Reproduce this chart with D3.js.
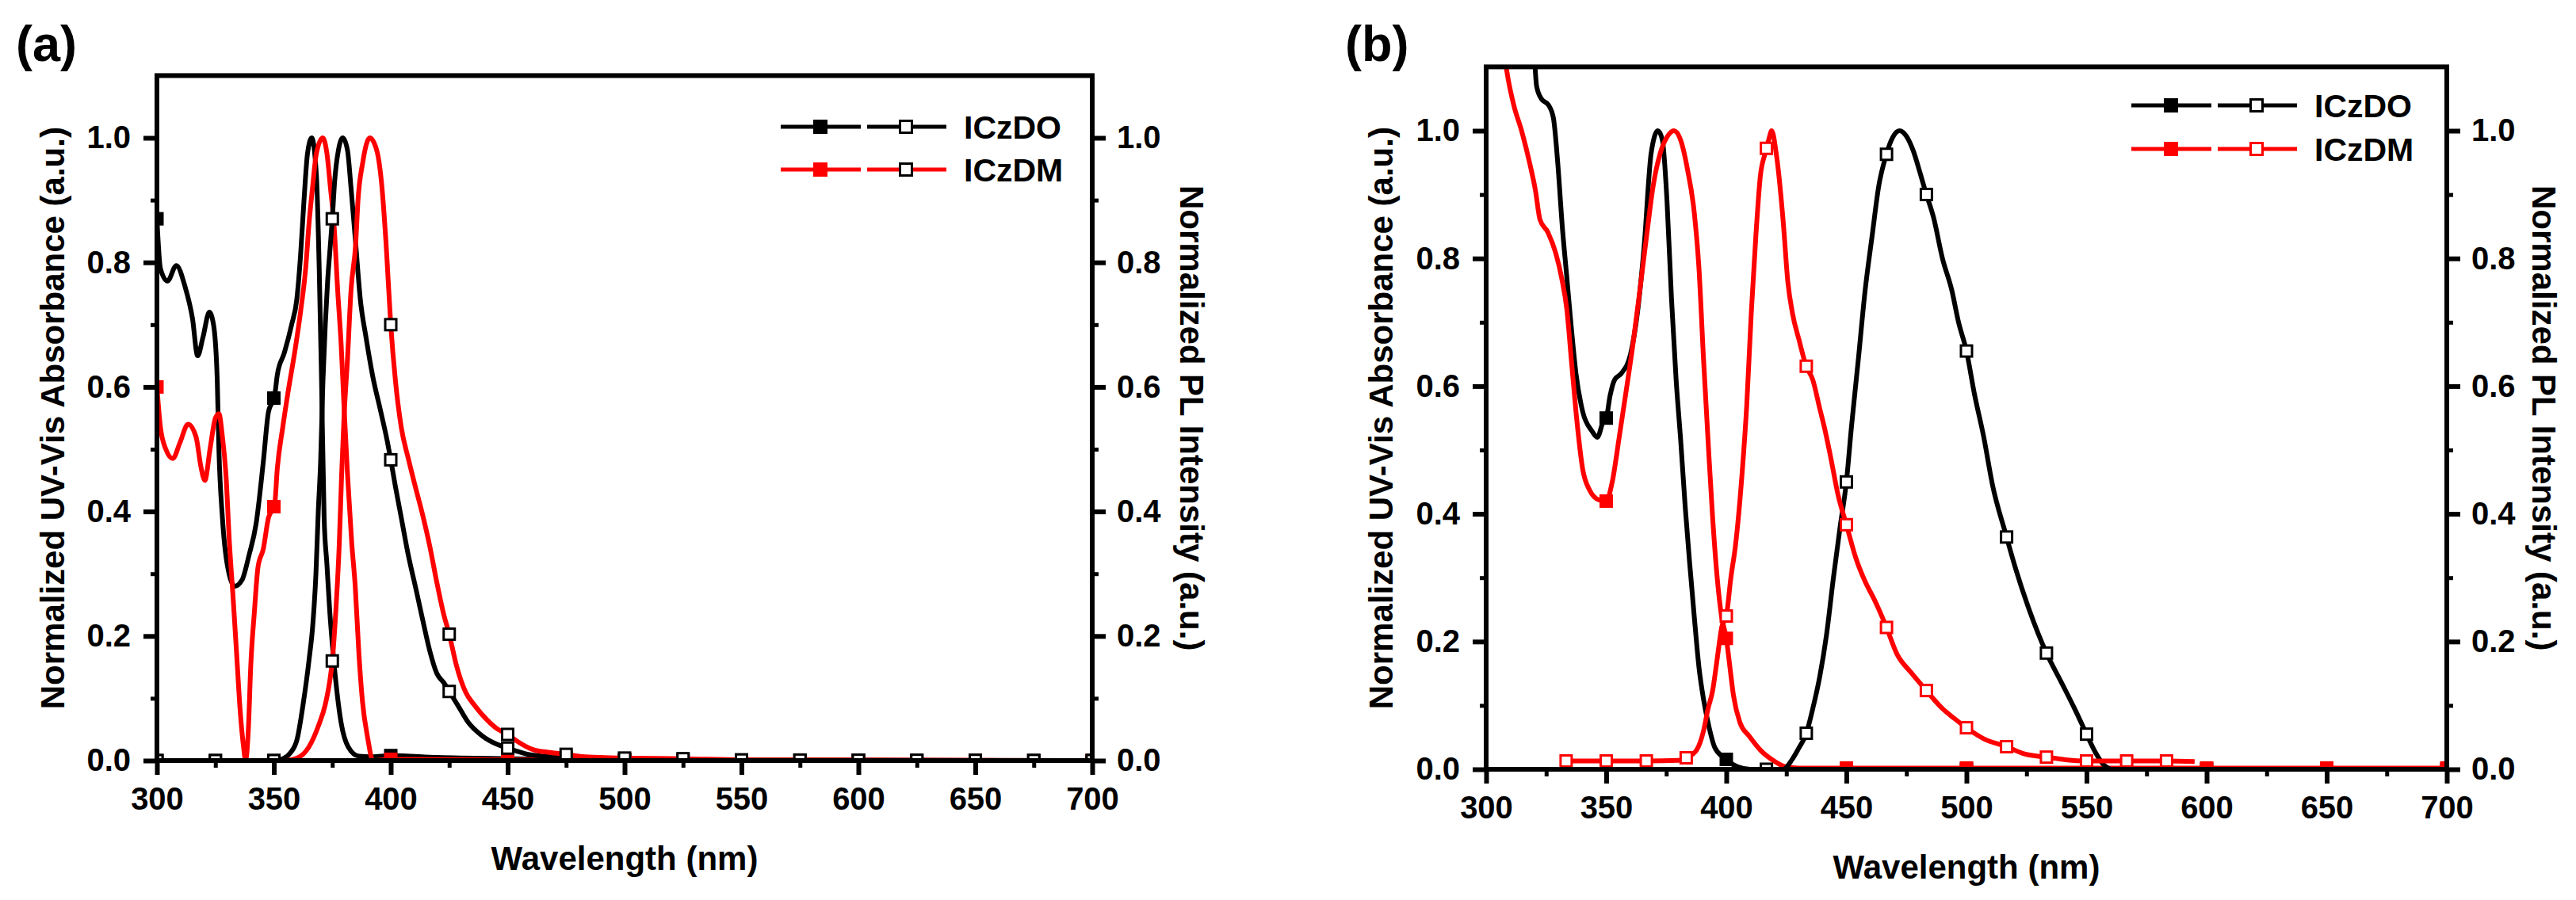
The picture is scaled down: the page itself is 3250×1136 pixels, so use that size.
<!DOCTYPE html>
<html>
<head>
<meta charset="utf-8">
<script src="https://cdn.jsdelivr.net/npm/d3@7"></script>
<style>
  body { margin: 0; background: #fff; }
</style>
</head>
<body>
<script>
// ---- panel (a): ICzDO / ICzDM, absorbance (filled) and PL (open) ----
const a_DO_abs_wl = [300, 301.5, 304.5, 308.3, 312.1, 315.2, 317.4, 319.7, 322.4, 324.2, 325.8, 326.5, 328, 330.3, 333.3, 336.4, 339.4, 342.4, 345.5, 347.7, 350.3, 351.5, 354.5, 357.6, 359.8, 361.4, 362.9, 364.4, 366.2, 368.2, 369.4, 370.4, 371.5, 372.7, 373.9, 375.4, 377, 378.8, 381.8, 386.4, 392, 400, 420, 450, 500, 700];
const a_DO_abs    = [0.87, 0.79, 0.77, 0.795, 0.76, 0.71, 0.65, 0.68, 0.72, 0.70, 0.61, 0.50, 0.39, 0.31, 0.28, 0.29, 0.33, 0.38, 0.48, 0.56, 0.585, 0.62, 0.655, 0.70, 0.74, 0.81, 0.90, 0.975, 1.0, 0.94, 0.79, 0.61, 0.39, 0.315, 0.24, 0.17, 0.11, 0.06, 0.022, 0.007, 0.006, 0.008, 0.005, 0.003, 0.001, 0];

const a_DO_pl_wl = [300, 350, 354, 357, 360, 362.5, 365, 366.7, 368, 369, 370, 371, 372, 373, 374, 375, 376, 377.6, 379.5, 381.5, 383, 385, 387, 389.4, 392.4, 395.5, 398.5, 400, 402, 404.5, 407.5, 410.5, 413.6, 416.7, 419.7, 422.7, 425, 428.8, 433, 439, 445.5, 450, 457.6, 468, 475, 500, 700];
const a_DO_pl    = [0, 0, 0.003, 0.012, 0.035, 0.09, 0.16, 0.22, 0.3, 0.4, 0.48, 0.61, 0.70, 0.77, 0.82, 0.87, 0.93, 0.98, 1.0, 0.98, 0.92, 0.83, 0.74, 0.68, 0.615, 0.564, 0.513, 0.483, 0.44, 0.39, 0.33, 0.28, 0.227, 0.176, 0.14, 0.125, 0.111, 0.088, 0.062, 0.04, 0.026, 0.02, 0.011, 0.006, 0.004, 0.001, 0];

const a_DM_abs_wl = [300, 301.5, 303.8, 306.8, 309.8, 313.3, 316.7, 318.9, 320.5, 322.7, 325, 326.5, 328, 329.5, 331, 332.6, 334.1, 335.6, 337.1, 337.9, 339.1, 340.1, 341.7, 343.2, 345.5, 347.7, 350.3, 351.5, 353.8, 356, 359.1, 361.4, 363.6, 365.1, 366.4, 368.2, 370.9, 372.7, 374.2, 375.8, 377.3, 378.8, 380, 381.5, 383.3, 384.8, 386.4, 387.9, 390.1, 392.4, 400, 450, 700];
const a_DM_abs    = [0.60, 0.535, 0.50, 0.485, 0.51, 0.54, 0.52, 0.47, 0.45, 0.50, 0.55, 0.557, 0.52, 0.46, 0.35, 0.26, 0.17, 0.08, 0.02, 0.0, 0.05, 0.15, 0.24, 0.31, 0.34, 0.39, 0.41, 0.47, 0.535, 0.59, 0.66, 0.72, 0.79, 0.865, 0.915, 0.975, 1.0, 0.975, 0.92, 0.857, 0.755, 0.667, 0.57, 0.46, 0.35, 0.28, 0.17, 0.095, 0.037, 0.0, 0.002, 0.001, 0];

const a_DM_pl_wl = [300, 355, 360, 365, 369, 372, 374, 375, 376.5, 378, 379, 380, 381.5, 383, 385, 386, 388, 391, 394, 396, 398, 400, 402, 404.5, 407.5, 410.5, 413.6, 416.7, 419.7, 422.7, 425, 428, 432, 436, 441, 445.5, 450, 454.5, 460.6, 468, 475, 483, 500, 525, 550, 700];
const a_DM_pl    = [0, 0, 0.004, 0.022, 0.055, 0.09, 0.13, 0.16, 0.24, 0.35, 0.46, 0.55, 0.645, 0.755, 0.83, 0.90, 0.96, 1.0, 0.98, 0.93, 0.83, 0.70, 0.61, 0.535, 0.485, 0.44, 0.395, 0.344, 0.286, 0.234, 0.203, 0.154, 0.11, 0.088, 0.066, 0.051, 0.042, 0.03, 0.018, 0.013, 0.01, 0.006, 0.004, 0.003, 0.001, 0];

// ---- panel (b) ----
const b_DO_abs_wl = [316, 318, 320, 321, 323, 326, 328, 329.8, 331.7, 333.6, 335.5, 337.4, 340.2, 344, 346.3, 348.8, 350, 351.6, 353.5, 356.3, 360.1, 363, 365.8, 368.7, 371.5, 373.4, 375.3, 377.2, 379.1, 381, 382.9, 384.8, 386.7, 388.6, 390.5, 392.4, 395.2, 399, 404.7, 410, 450, 700];
const b_DO_abs    = [1.25, 1.18, 1.12, 1.07, 1.05, 1.04, 1.02, 0.95, 0.85, 0.77, 0.69, 0.62, 0.56, 0.53, 0.52, 0.545, 0.55, 0.585, 0.61, 0.62, 0.65, 0.715, 0.82, 0.965, 1.0, 0.985, 0.89, 0.735, 0.61, 0.515, 0.41, 0.32, 0.237, 0.16, 0.11, 0.073, 0.034, 0.018, 0.004, 0.0, 0.0, 0.0];

const b_DO_pl_wl = [405, 423.7, 427.5, 430.3, 433.2, 436, 438.9, 441.7, 444.6, 447.4, 450, 452.1, 455, 457.8, 460.7, 463.5, 466.4, 469.2, 472.1, 474.9, 477.7, 480.6, 482.9, 486.3, 490, 493.9, 496.7, 500, 503.4, 507.1, 510.9, 516.3, 520.4, 526.1, 533.3, 539.4, 545, 550, 553.6, 557.4, 560];
const b_DO_pl    = [0, 0, 0.016, 0.034, 0.055, 0.095, 0.145, 0.21, 0.30, 0.38, 0.45, 0.536, 0.643, 0.75, 0.835, 0.914, 0.96, 0.989, 1.0, 0.992, 0.97, 0.935, 0.905, 0.864, 0.80, 0.75, 0.70, 0.655, 0.586, 0.522, 0.444, 0.369, 0.315, 0.25, 0.182, 0.137, 0.095, 0.055, 0.027, 0.006, 0];

const b_DM_abs_wl = [305, 308.3, 309.2, 311.5, 314.9, 318.2, 320.5, 322.4, 325.7, 329, 331.4, 333.6, 335.5, 337.4, 340.2, 343.1, 346.9, 350, 352.5, 355.4, 358.2, 361.1, 364, 366.8, 369.6, 372.5, 375.3, 378.2, 381, 383.8, 386.7, 388.6, 390.5, 392.4, 394.3, 396.2, 398, 400, 401.5, 403, 405.7, 409.5, 414.2, 419.9, 424.6, 430, 700];
const b_DM_abs    = [1.15, 1.1, 1.08, 1.04, 0.998, 0.948, 0.907, 0.861, 0.841, 0.808, 0.77, 0.72, 0.64, 0.56, 0.47, 0.437, 0.422, 0.42, 0.45, 0.52, 0.59, 0.665, 0.75, 0.835, 0.915, 0.965, 0.99, 1.0, 0.985, 0.94, 0.87, 0.785, 0.643, 0.515, 0.394, 0.30, 0.24, 0.205, 0.16, 0.115, 0.073, 0.052, 0.03, 0.013, 0.004, 0.002, 0.002];

const b_DM_pl_wl = [331, 333.3, 350, 366.7, 380, 383.3, 387.6, 390.5, 392.4, 394.3, 396.2, 398.1, 400, 401.9, 403.8, 406.6, 408.5, 410.4, 412.3, 414.2, 416.1, 417.6, 418.9, 420.8, 423.7, 425.6, 427.5, 430.3, 433.2, 436, 438.9, 440.8, 443.6, 446.5, 450, 454, 457.8, 461.6, 466.4, 471.1, 476.8, 482.9, 490, 494.8, 500, 507.1, 516.3, 524.2, 533.3, 541.3, 550, 566.7, 583.3, 595];
const b_DM_pl    = [0.012, 0.013, 0.013, 0.013, 0.014, 0.018, 0.03, 0.06, 0.095, 0.123, 0.173, 0.223, 0.24, 0.30, 0.35, 0.465, 0.57, 0.715, 0.835, 0.93, 0.964, 0.985, 1.0, 0.964, 0.857, 0.764, 0.715, 0.672, 0.632, 0.61, 0.565, 0.536, 0.486, 0.43, 0.383, 0.33, 0.294, 0.266, 0.225, 0.18, 0.152, 0.125, 0.095, 0.08, 0.065, 0.048, 0.036, 0.024, 0.019, 0.015, 0.013, 0.013, 0.013, 0.012];

// symbol positions (wavelengths)
const abs_marks = [300, 350, 400, 450, 500, 550, 600, 650, 700];
const a_pl_marks = [300, 325, 350, 375, 400, 425, 450, 475, 500, 525, 550, 575, 600, 625, 650, 675, 700];
const b_DO_pl_marks = [416.7, 433.3, 450, 466.7, 483.3, 500, 516.7, 533.3, 550];
const b_DM_pl_marks = [333.3, 350, 366.7, 383.3, 400, 416.7, 433.3, 450, 466.7, 483.3, 500, 516.7, 533.3, 550, 566.7, 583.3];

// ticks and labels
const tickX = [300, 350, 400, 450, 500, 550, 600, 650, 700];
const minorX = [325, 375, 425, 475, 525, 575, 625, 675];
const tickY = [0, 0.2, 0.4, 0.6, 0.8, 1.0];
const minorY = [0.1, 0.3, 0.5, 0.7, 0.9];
const legendNames = ['ICzDO', 'ICzDM'];

const width = 3250, height = 1136;
const FONT = '"Liberation Sans", Arial, sans-serif';
const RED = '#ff0000';

const svg = d3.select('body').append('svg')
  .attr('width', width).attr('height', height)
  .style('font-family', FONT).style('font-weight', 'bold');
svg.append('rect').attr('width', width).attr('height', height).attr('fill', '#fff');

// linear lookup so the symbols sit on the drawn line
function valueAt(xs, ys, v) {
  const i = d3.bisectLeft(xs, v);
  if (i <= 0) return ys[0];
  if (i >= xs.length) return ys[ys.length - 1];
  const t = (v - xs[i - 1]) / (xs[i] - xs[i - 1]);
  return ys[i - 1] + t * (ys[i] - ys[i - 1]);
}

const panels = [
  { name: 'a', label: '(a)', labelX: 20, left: 198, right: 1378, top: 95.4, bottom: 960,
    titleL: 66, titleR: 1504, xTitleY: 1098, legX: 985, legY: 160, legGap: 54, openEdgeDM: '#000',
    series: [
      { wl: a_DO_abs_wl, val: a_DO_abs, color: '#000', open: false, marks: abs_marks },
      { wl: a_DM_abs_wl, val: a_DM_abs, color: RED, open: false, marks: abs_marks },
      { wl: a_DO_pl_wl, val: a_DO_pl, color: '#000', open: true, edge: '#000', marks: a_pl_marks },
      { wl: a_DM_pl_wl, val: a_DM_pl, color: RED, open: true, edge: '#000', marks: a_pl_marks }
    ] },
  { name: 'b', label: '(b)', labelX: 1697, left: 1875, right: 3087, top: 84.4, bottom: 971,
    titleL: 1742, titleR: 3210, xTitleY: 1109, legX: 2689, legY: 133, legGap: 55, openEdgeDM: RED,
    series: [
      { wl: b_DO_abs_wl, val: b_DO_abs, color: '#000', open: false, marks: abs_marks },
      { wl: b_DM_abs_wl, val: b_DM_abs, color: RED, open: false, marks: abs_marks },
      { wl: b_DO_pl_wl, val: b_DO_pl, color: '#000', open: true, edge: '#000', marks: b_DO_pl_marks },
      { wl: b_DM_pl_wl, val: b_DM_pl, color: RED, open: true, edge: RED, marks: b_DM_pl_marks }
    ] }
];

function marker(sel, open, fill, edge, size) {
  if (open) {
    sel.attr('width', size - 3).attr('height', size - 3)
       .attr('fill', '#fff').attr('stroke', edge).attr('stroke-width', 3);
  } else {
    sel.attr('width', size).attr('height', size)
       .attr('fill', fill).attr('stroke', 'none');
  }
}

panels.forEach(p => {
  const x = d3.scaleLinear().domain([300, 700]).range([p.left, p.right]);
  const y = d3.scaleLinear().domain([0, 1.1]).range([p.bottom, p.top]);
  const g = svg.append('g');

  svg.append('clipPath').attr('id', 'clip-' + p.name)
    .append('rect').attr('x', p.left).attr('y', p.top)
    .attr('width', p.right - p.left).attr('height', p.bottom - p.top);
  const plot = g.append('g').attr('clip-path', `url(#clip-${p.name})`);

  const line = d3.line().x(d => x(d[0])).y(d => y(d[1])).curve(d3.curveMonotoneX);

  p.series.forEach(s => {
    const pts = s.wl.map((w, i) => [w, s.val[i]]);
    plot.append('path').datum(pts).attr('d', line)
      .attr('fill', 'none').attr('stroke', s.color).attr('stroke-width', 6)
      .attr('stroke-linejoin', 'round');

    const lo = s.wl[0], hi = s.wl[s.wl.length - 1];
    const mk = s.marks.filter(m => m >= lo && m <= hi).map(m => [m, valueAt(s.wl, s.val, m)]);
    const size = 17, h = s.open ? (size - 3) / 2 : size / 2;
    plot.selectAll(null).data(mk).enter().append('rect')
      .attr('x', d => x(d[0]) - h).attr('y', d => y(d[1]) - h)
      .call(marker, s.open, s.color, s.edge, size);
  });

  // axes
  const styleAxis = (ag, sw) => {
    ag.attr('font-size', 40).attr('font-family', FONT).attr('font-weight', 'bold');
    ag.select('.domain').remove();
    ag.selectAll('.tick line').attr('stroke', '#000').attr('stroke-width', sw);
    ag.selectAll('.tick text').attr('fill', '#000');
  };
  const fmt = d3.format('.1f');

  g.append('g').attr('transform', `translate(0,${p.bottom})`)
    .call(d3.axisBottom(x).tickValues(tickX).tickSize(18).tickPadding(16).tickFormat(d3.format('d')))
    .call(styleAxis, 6);
  g.append('g').attr('transform', `translate(0,${p.bottom})`)
    .call(d3.axisBottom(x).tickValues(minorX).tickSize(9).tickFormat(''))
    .call(styleAxis, 5);

  g.append('g').attr('transform', `translate(${p.left},0)`)
    .call(d3.axisLeft(y).tickValues(tickY).tickSize(17).tickPadding(16).tickFormat(fmt))
    .call(styleAxis, 6);
  g.append('g').attr('transform', `translate(${p.left},0)`)
    .call(d3.axisLeft(y).tickValues(minorY).tickSize(8).tickFormat(''))
    .call(styleAxis, 5);

  g.append('g').attr('transform', `translate(${p.right},0)`)
    .call(d3.axisRight(y).tickValues(tickY).tickSize(17).tickPadding(14).tickFormat(fmt))
    .call(styleAxis, 6);
  g.append('g').attr('transform', `translate(${p.right},0)`)
    .call(d3.axisRight(y).tickValues(minorY).tickSize(8).tickFormat(''))
    .call(styleAxis, 5);

  // frame
  g.append('rect').attr('x', p.left).attr('y', p.top)
    .attr('width', p.right - p.left).attr('height', p.bottom - p.top)
    .attr('fill', 'none').attr('stroke', '#000').attr('stroke-width', 6);

  // titles
  const cy = (p.top + p.bottom) / 2;
  g.append('text').attr('transform', `translate(${p.titleL},${cy}) rotate(-90)`)
    .attr('text-anchor', 'middle').attr('dy', '0.35em').attr('font-size', 42)
    .text('Normalized UV-Vis Absorbance (a.u.)');
  g.append('text').attr('transform', `translate(${p.titleR},${cy}) rotate(90)`)
    .attr('text-anchor', 'middle').attr('dy', '0.35em').attr('font-size', 42)
    .text('Normalized PL Intensity (a.u.)');
  g.append('text').attr('x', (p.left + p.right) / 2).attr('y', p.xTitleY)
    .attr('text-anchor', 'middle').attr('font-size', 42)
    .text('Wavelength (nm)');
  g.append('text').attr('x', p.labelX).attr('y', 77).attr('font-size', 63).text(p.label);

  // legend
  legendNames.forEach((name, i) => {
    const ly = p.legY + i * p.legGap;
    const col = i === 0 ? '#000' : RED;
    const edge = i === 0 ? '#000' : p.openEdgeDM;
    const lg = g.append('g');
    lg.append('line').attr('x1', p.legX).attr('x2', p.legX + 101).attr('y1', ly).attr('y2', ly)
      .attr('stroke', col).attr('stroke-width', 5);
    lg.append('line').attr('x1', p.legX + 109).attr('x2', p.legX + 209).attr('y1', ly).attr('y2', ly)
      .attr('stroke', col).attr('stroke-width', 5);
    lg.append('rect').attr('x', p.legX + 50 - 9).attr('y', ly - 9).call(marker, false, col, col, 18);
    lg.append('rect').attr('x', p.legX + 158 - 7.5).attr('y', ly - 7.5).call(marker, true, col, edge, 18);
    lg.append('text').attr('x', p.legX + 231).attr('y', ly).attr('dy', '0.36em')
      .attr('font-size', 41).text(name);
  });
});
</script>
</body>
</html>
